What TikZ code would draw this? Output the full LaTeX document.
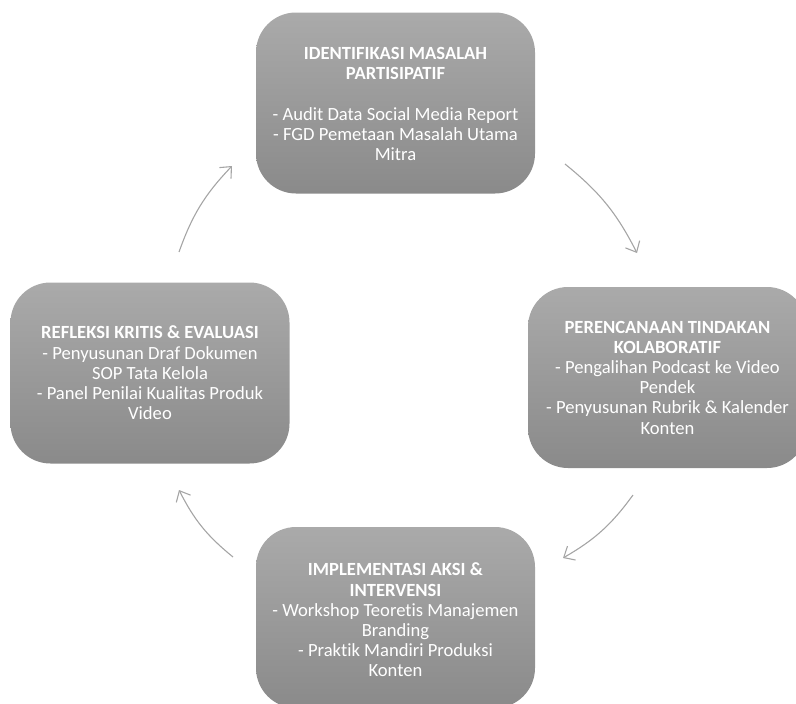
\documentclass[tikz,border=0pt]{standalone}
\usepackage{fontspec}
\setmainfont{Carlito}[RawFeature={-liga;-dlig}]
\usetikzlibrary{arrows.meta,shadings}
\definecolor{boxtop}{RGB}{170,170,170}
\definecolor{boxbot}{RGB}{138,138,138}
\definecolor{arrowgray}{RGB}{165,165,165}
\tikzset{
  stepbox/.style={rounded corners=40pt, minimum width=279pt, minimum height=181pt,
    top color=boxtop, bottom color=boxbot, draw=none, inner sep=0pt},
  boxtext/.style={text=white, align=center, font=\fontsize{18.6}{20.2}\selectfont},
  cyc/.style={draw=arrowgray, line width=1.1pt, -{Straight Barb[length=9pt,width=16pt,line width=1.1pt]}}
}
\begin{document}
\begin{tikzpicture}[x=1pt,y=-1pt]
\useasboundingbox (0,0) rectangle (796,704);
\clip (0,0) rectangle (796,704);
\node[stepbox] (top) at (395.5,103) {};
\node[stepbox] (right) at (667.5,377.5) {};
\node[stepbox] (left) at (150,373) {};
\node[stepbox] (bottom) at (395.5,617.5) {};
\node[boxtext] (ttop) at ([yshift=-1pt]top.center) {\textbf{IDENTIFIKASI MASALAH}\\\textbf{PARTISIPATIF}\\[21pt]- Audit Data Social Media Report\\- FGD Pemetaan Masalah Utama\\Mitra};
\node[boxtext] (tright) at (right.center) {\textbf{PERENCANAAN TINDAKAN}\\\textbf{KOLABORATIF}\\- Pengalihan Podcast ke Video\\Pendek\\- Penyusunan Rubrik \& Kalender\\Konten};
\node[boxtext] (tleft) at (left.center) {\textbf{REFLEKSI KRITIS \& EVALUASI}\\- Penyusunan Draf Dokumen\\SOP Tata Kelola\\- Panel Penilai Kualitas Produk\\Video};
\node[boxtext] (tbottom) at ([yshift=-2.5pt]bottom.center) {\textbf{IMPLEMENTASI AKSI \&}\\\textbf{INTERVENSI}\\- Workshop Teoretis Manajemen\\Branding\\- Praktik Mandiri Produksi\\Konten};
\coordinate (a1s) at (565,164);
\coordinate (a1e) at (637,253);
\coordinate (a2s) at (633,495);
\coordinate (a2e) at (563,558);
\coordinate (a3s) at (233,557);
\coordinate (a3e) at (179,490);
\coordinate (a4s) at (179,252);
\coordinate (a4e) at (232,166);
\draw[cyc] (a1s) to[bend left=12] (a1e);
\draw[cyc] (a2s) to[bend left=12] (a2e);
\draw[cyc] (a3s) to[bend left=12] (a3e);
\draw[cyc] (a4s) to[bend left=12] (a4e);
\end{tikzpicture}
\end{document}
